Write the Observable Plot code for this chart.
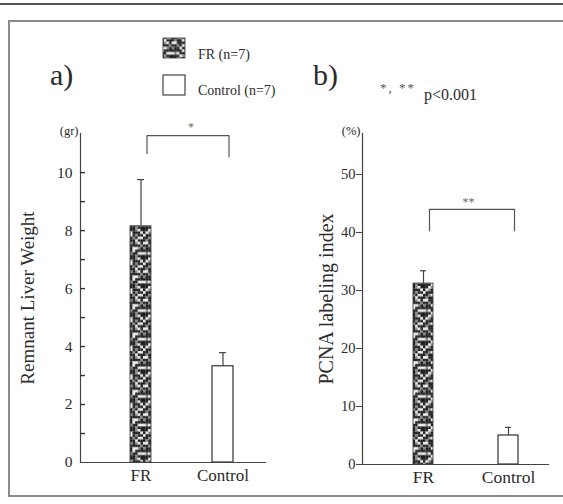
<!DOCTYPE html>
<html><head><meta charset="utf-8">
<script src="https://cdn.jsdelivr.net/npm/d3@7"></script>
<script src="https://cdn.jsdelivr.net/npm/@observablehq/plot@0.6"></script>
<style>
html,body{margin:0;padding:0;background:#fff;overflow:hidden;width:563px;height:504px;scrollbar-width:none;}
::-webkit-scrollbar{display:none;width:0;height:0;}
#page{position:relative;width:563px;height:504px;overflow:hidden;background:#fff;font-family:"Liberation Serif",serif;color:#2b2b2b;}
.abs{position:absolute;}
</style></head><body>
<div id="page">
  <div class="abs" style="left:0;top:3px;width:563px;height:2px;background:#555;"></div>
  <div class="abs" style="left:8px;top:20px;width:555px;height:1.5px;background:#8a8a8a;"></div>
  <div class="abs" style="left:8px;top:20px;width:1.5px;height:476px;background:#8a8a8a;"></div>
  <div class="abs" style="left:8px;top:495px;width:555px;height:1.5px;background:#8a8a8a;"></div>
</div>
<script>
// ---- data ----
const categories = ["FR", "Control"];
const weightMean = [8.15, 3.32];
const weightSD = [1.61, 0.47];
const pcnaMean = [31.2, 5.0];
const pcnaSD = [2.2, 1.4];
const weightTicks = [0, 2, 4, 6, 8, 10];
const weightMinorTicks = [1, 3, 5, 7, 9];
const pcnaTicks = [0, 10, 20, 30, 40, 50];
// significance brackets: [FR leg bottom, top, top, Control leg bottom] in y units
const weightBracket = [10.66, 11.28, 11.28, 10.55];
const pcnaBracket = [40.3, 44.0, 44.0, 40.3];
const legendLabels = ["FR (n=7)", "Control (n=7)"];
const panelLabels = ["a)", "b)"];
const yTitles = ["Remnant Liver Weight", "PCNA labeling index"];
const yUnits = ["(gr)", "(%)"];
const starLabels = ["*", "**"];
const pNote = ["*, **", "p<0.001"];

const page = document.getElementById("page");
const NS = "http://www.w3.org/2000/svg";

// texture for FR bars (fixed grid: 0 light, 1 mid, 2 dark)
const grid = [
  "22012222102","20122102220","02222002122","22102221200","21220122022","00222212102",
  "22120022221","12202220012","22220120222","01022212200","22201022122"
];
const cell = 2.6, psize = cell * grid.length;
const shades = {"0": "#ececec", "1": "#8a8a8a", "2": "#1e1e1e"};
const defs = document.createElementNS(NS, "svg");
defs.setAttribute("width", 0); defs.setAttribute("height", 0);
defs.style.cssText = "position:absolute;left:0;top:0;";
let pat = `<defs><pattern id="frPattern" patternUnits="userSpaceOnUse" width="${psize}" height="${psize}">`;
grid.forEach((row, r) => [...row].forEach((b, c) => {
  pat += `<rect x="${c*cell}" y="${r*cell}" width="${cell+0.05}" height="${cell+0.05}" fill="${shades[b]}"/>`;
}));
pat += `</pattern></defs>`;
defs.innerHTML = pat;
page.appendChild(defs);

const font = '"Liberation Serif", "Times New Roman", serif';
const ink = "#2b2b2b";

function panel(opts) {
  const {mean, sd, yMax, title, unit, bracket, star, width, marginLeft, marginRight, marginBottom,
    paddingInner, paddingOuter, align, labelOffset, titleSize, starDx, starDy, xFont, axisMarks} = opts;
  const data = categories.map((c, i) => ({cat: c, mean: mean[i], hi: mean[i] + sd[i]}));
  const br = [
    {cat: categories[0], y: bracket[0]}, {cat: categories[0], y: bracket[1]},
    {cat: categories[1], y: bracket[2]}, {cat: categories[1], y: bracket[3]}
  ];
  const marks = [
    Plot.barY(data.filter(d => d.cat === "FR"), {x: "cat", y: "mean", fill: "url(#frPattern)", stroke: "#333", strokeWidth: 0.8}),
    Plot.barY(data.filter(d => d.cat === "Control"), {x: "cat", y: "mean", fill: "white", stroke: "#333", strokeWidth: 1.2}),
    Plot.ruleX(data, {x: "cat", y1: "mean", y2: "hi", stroke: "#444", strokeWidth: 1.2}),
    Plot.tickY(data, {x: "cat", y: "hi", insetLeft: 7, insetRight: 7, stroke: "#444", strokeWidth: 1.2}),
    Plot.line(br, {x: "cat", y: "y", dx: 6, stroke: "#555", strokeWidth: 1.2}),
    Plot.text([star], {x: () => categories[0], y: () => bracket[1], text: d => d, dx: starDx, dy: starDy, fontSize: 12, fill: "#666", fontFamily: font}),
    Plot.frame({anchor: "left", stroke: "#444", strokeWidth: 1.2}),
    Plot.frame({anchor: "bottom", stroke: "#444", strokeWidth: 1.2}),
    ...axisMarks,
    Plot.axisY({ticks: [], label: title, labelAnchor: "center", labelOffset, labelArrow: "none", fontSize: titleSize, fontFamily: font}),
    Plot.axisX({tickSize: 0, tickPadding: 6, label: null, fontSize: xFont, fontFamily: font}),
    Plot.text([unit], {frameAnchor: "top-left", text: d => d, dx: -2, dy: -7, textAnchor: "end", fontSize: 12.5, fontFamily: font})
  ];
  return Plot.plot({
    width, height: 504, marginLeft, marginRight, marginTop: 133, marginBottom,
    style: {fontFamily: font, color: ink, background: "transparent", overflow: "hidden"},
    x: {domain: categories, paddingInner, paddingOuter, align},
    y: {domain: [0, yMax]},
    marks
  });
}

const a = panel({mean: weightMean, sd: weightSD, yMax: 11.35,
  title: yTitles[0], unit: yUnits[0], bracket: weightBracket, star: starLabels[0],
  width: 290, marginLeft: 80, marginRight: 25, marginBottom: 42,
  paddingInner: 0.744, paddingOuter: 0.5, align: 0.61, labelOffset: 60, titleSize: 19,
  starDx: 50, starDy: -8, xFont: 17,
  axisMarks: [
    // inward ticks (major + minor), drawn on the right side of the axis as in the original
    Plot.axisY({ticks: [...weightTicks.slice(1), ...weightMinorTicks], anchor: "left", tickSize: 5, tickFormat: () => "", label: null, dx: 5, stroke: "#333", strokeWidth: 1.4}),
    Plot.axisY({ticks: weightTicks, tickSize: 0, tickPadding: 8, label: null, fontSize: 15.5, fontFamily: font})
  ]});
a.style.position = "absolute"; a.style.left = "0px"; a.style.top = "0px";
page.appendChild(a);

const b = panel({mean: pcnaMean, sd: pcnaSD, yMax: 57.07,
  title: yTitles[1], unit: yUnits[1], bracket: pcnaBracket, star: starLabels[1],
  width: 283, marginLeft: 82, marginRight: 15, marginBottom: 40,
  paddingInner: 0.767, paddingOuter: 0.465, align: 0.625, labelOffset: 44, titleSize: 20,
  starDx: 45, starDy: -7, xFont: 17.5,
  axisMarks: [
    Plot.axisY({ticks: pcnaTicks, tickSize: 6, tickPadding: 1, label: null, fontSize: 14.5, fontFamily: font, stroke: "#444"})
  ]});
b.style.position = "absolute"; b.style.left = "280px"; b.style.top = "0px";
page.appendChild(b);

// header: panel letters, legend, p-value note
const hdr = document.createElementNS(NS, "svg");
hdr.setAttribute("width", 563); hdr.setAttribute("height", 120);
hdr.style.position = "absolute"; hdr.style.left = "0"; hdr.style.top = "0";
hdr.setAttribute("font-family", font);
hdr.innerHTML = `
  <text x="50" y="85" font-size="30" fill="${ink}">${panelLabels[0]}</text>
  <text x="313" y="85" font-size="30" fill="${ink}">${panelLabels[1]}</text>
  <rect x="163" y="38" width="22" height="20" fill="url(#frPattern)" stroke="#333" stroke-width="0.8"/>
  <rect x="163" y="75" width="22" height="20" fill="white" stroke="#444" stroke-width="1.2"/>
  <text x="198" y="59" font-size="14" fill="${ink}">${legendLabels[0]}</text>
  <text x="198" y="95" font-size="14" fill="${ink}">${legendLabels[1]}</text>
  <text x="380" y="92" font-size="13" fill="#555" letter-spacing="2">${pNote[0]}</text>
  <text x="424" y="100" font-size="16" fill="${ink}">${pNote[1]}</text>`;
page.appendChild(hdr);
</script>
</body></html>
